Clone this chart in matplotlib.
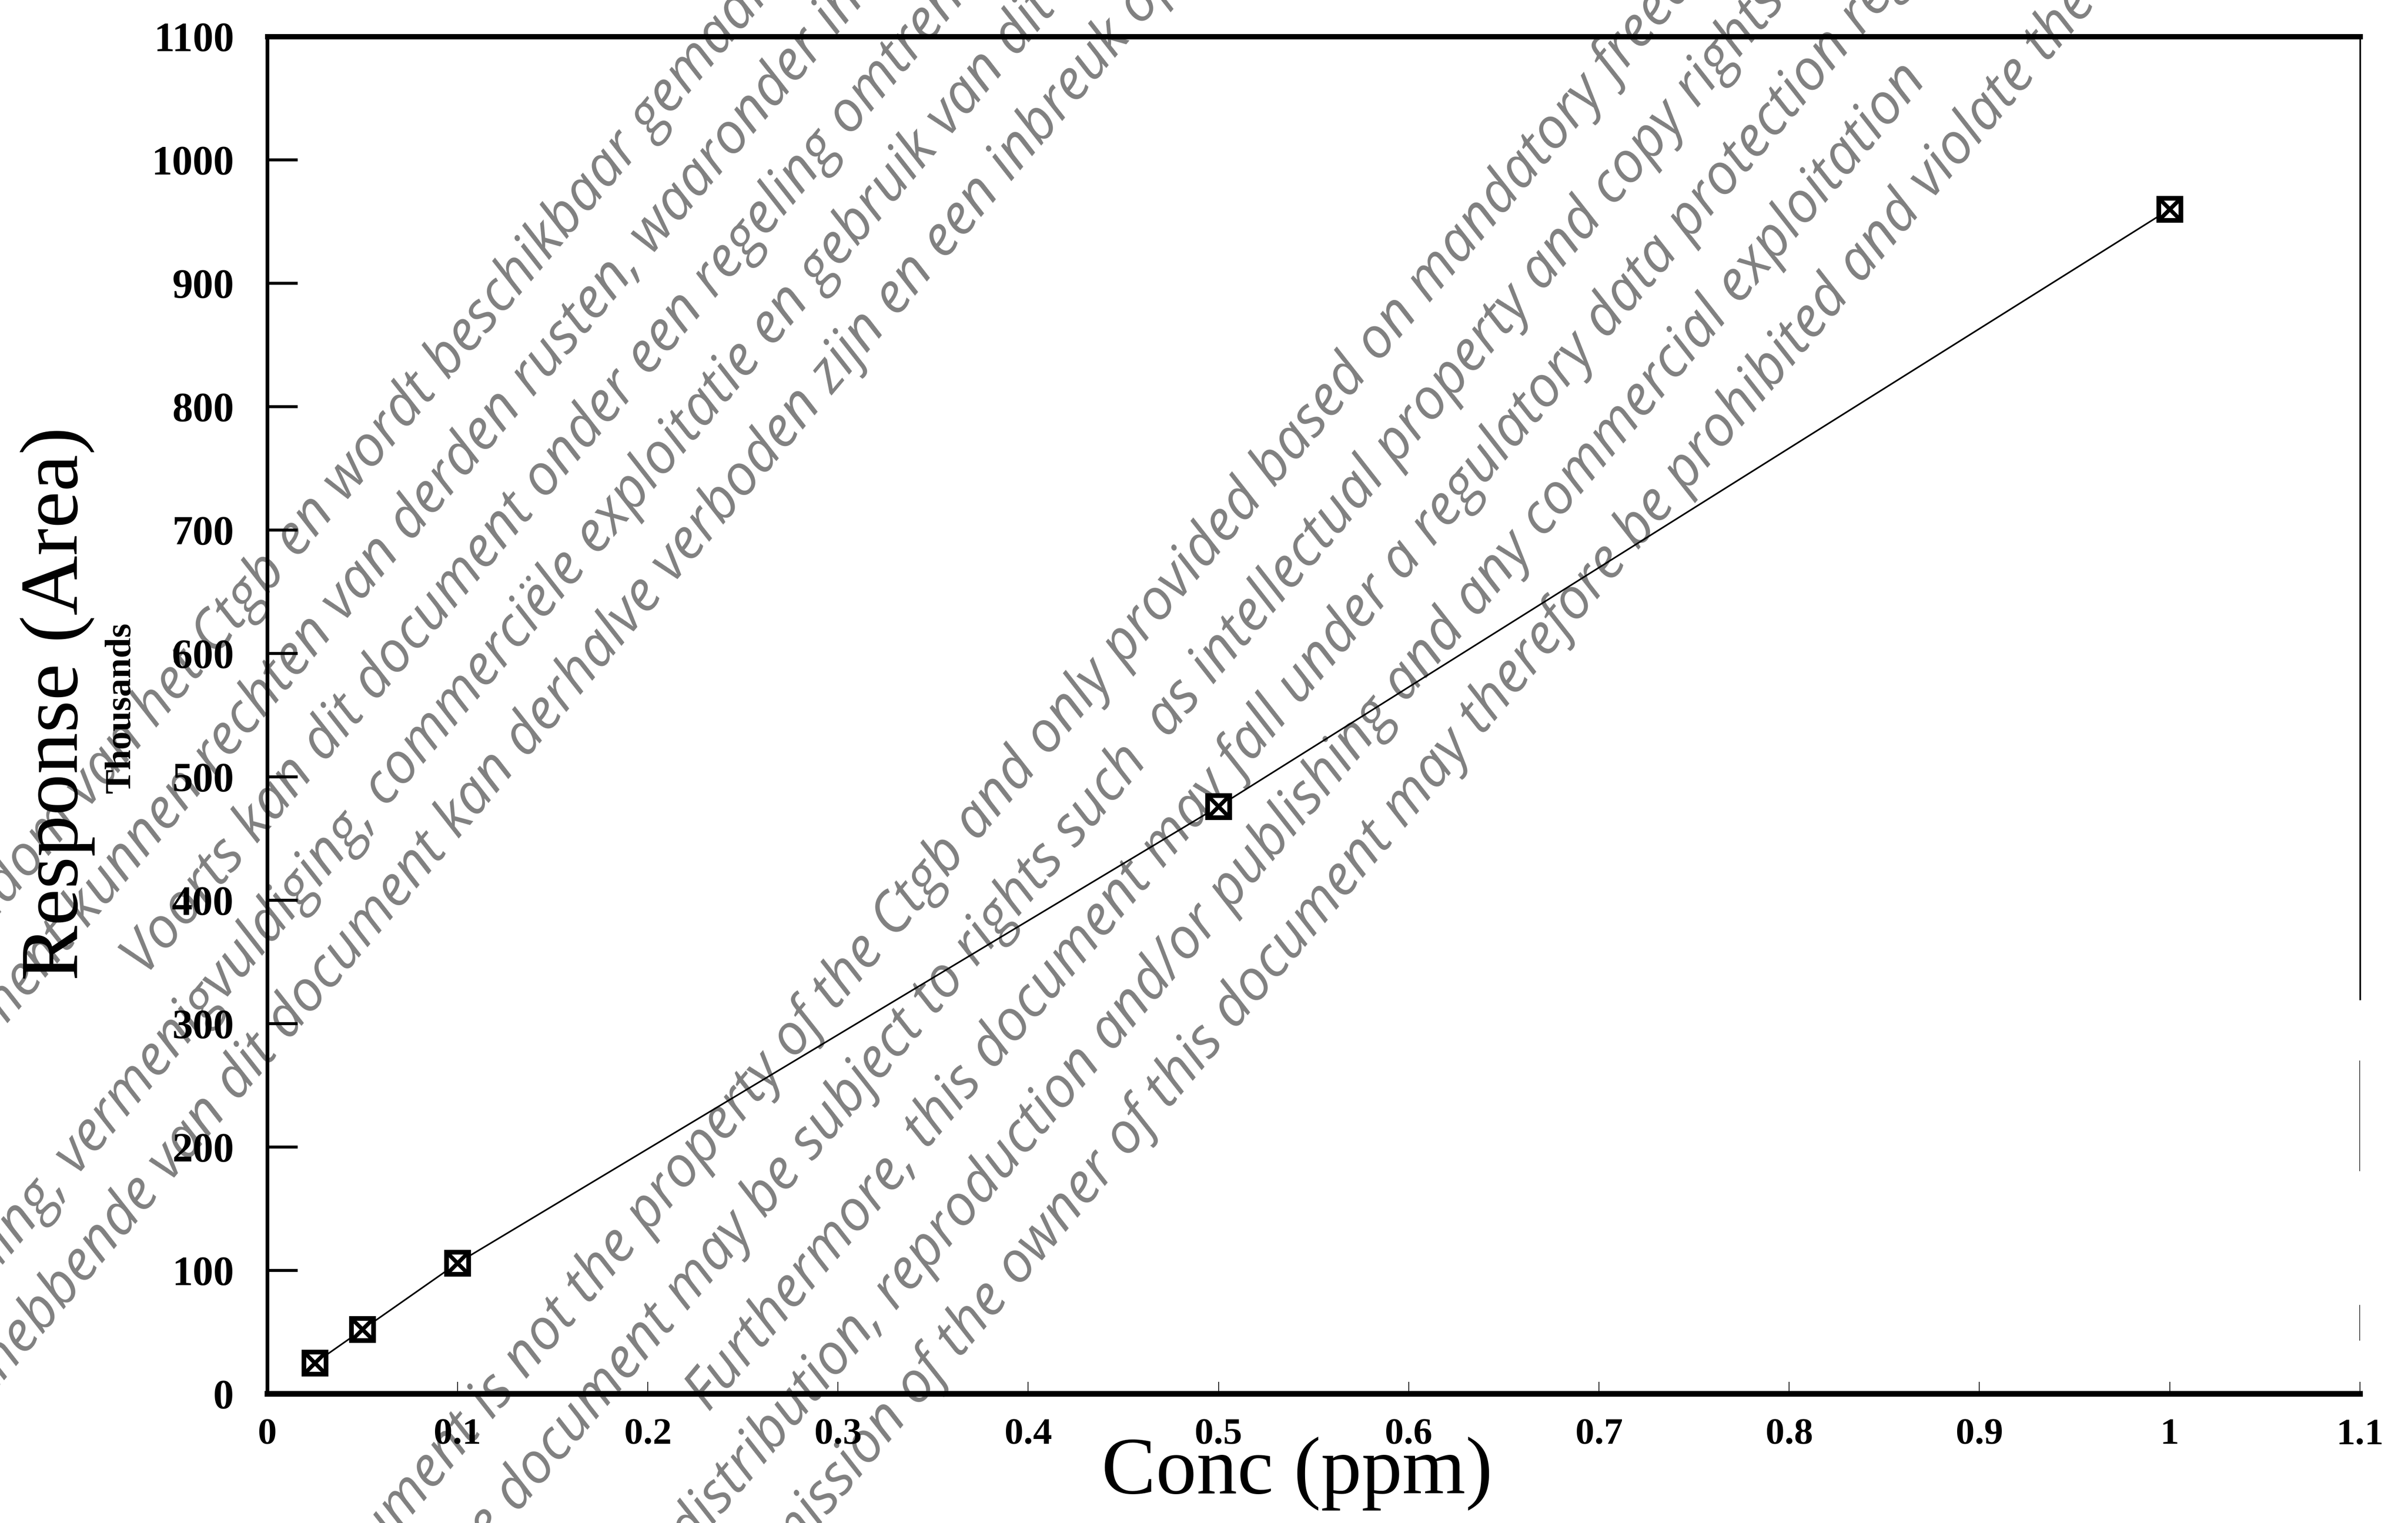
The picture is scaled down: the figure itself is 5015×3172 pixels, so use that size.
"""Calibration curve: detector response vs concentration, with the scan watermark."""

import math

import matplotlib

matplotlib.use("Agg")
import matplotlib.pyplot as plt


# data
conc_ppm = [0.025, 0.05, 0.1, 0.5, 1.0]
response_thousands = [25, 52, 106, 476, 960]

x_ticks = [0, 0.1, 0.2, 0.3, 0.4, 0.5, 0.6, 0.7, 0.8, 0.9, 1.0, 1.1]
x_tick_labels = ["0", "0.1", "0.2", "0.3", "0.4", "0.5", "0.6", "0.7", "0.8", "0.9", "1", "1.1"]
y_ticks = [0, 100, 200, 300, 400, 500, 600, 700, 800, 900, 1000, 1100]
y_tick_labels = ["0", "100", "200", "300", "400", "500", "600", "700", "800", "900", "1000", "1100"]

# watermark lines, split at the word whose position was measured
watermark = [
    ("Dit document is eigendom van het Ctgb en wordt", " beschikbaar gemaakt op grond van de wet"),
    ("Op de inhoud van dit document kunnen rechten van derden rusten,", " waaronder intellectuele eigendomsrechten"),
    ("", "Voorts kan dit document onder een regeling omtrent gegevensbescherming vallen"),
    ("Openbaarmaking, verspreiding, vermenigvuldiging,", " commerciële exploitatie en gebruik van dit document"),
    ("zonder toestemming van de rechthebbende van dit document kan", " derhalve verboden zijn en een inbreuk op diens rechten"),
    ("This document is not the property of the", " Ctgb and only provided based on mandatory freedom of information"),
    ("Content of the document may be", " subject to rights such  as intellectual property and copy rights"),
    ("Furthermore,", " this document may fall under a regulatory data protection regime"),
    ("Any distribution,", " reproduction and/or publishing and any commercial exploitation"),
    ("and use without the permission of", " the owner of this document may therefore be prohibited and violate the rights"),
]
# perpendicular offset and position along the line (pixels) of the split point
wm_offset = [1224, 1382, 1540, 1698, 1856, 2686, 2852, 3018, 3184, 3350]
wm_along = [-38, 435, -1364, -803, -536, -332, -796, -625, -924, -915]

W, H = 5015, 3172
ANGLE = 50.0

fig = plt.figure(figsize=(W / 100, H / 100), dpi=100)
fig.patch.set_facecolor("white")

# watermark sits underneath the chart (black over grey stays black)
th = math.radians(ANGLE)
nx, ny = math.sin(th), math.cos(th)
dx, dy = math.cos(th), -math.sin(th)
for (prefix, suffix), c, s in zip(watermark, wm_offset, wm_along):
    px = c * nx + s * dx
    py = c * ny + s * dy
    for text, ha in ((prefix, "right"), (suffix, "left")):
        if text:
            fig.text(px / W, 1 - py / H, text, rotation=ANGLE, rotation_mode="anchor",
                     ha=ha, va="baseline", fontsize=84, color="#808080",
                     family="Open Sans", style="italic", zorder=-1)

ax = fig.add_axes([0.1110, 0.0848, 0.8690, 0.8912])
ax.patch.set_alpha(0)

ax.plot(conc_ppm, response_thousands, "-", color="black", lw=2.4, zorder=2)
ax.plot(conc_ppm, response_thousands, "s", ms=33, mfc="white", mec="black", mew=7, zorder=3)
ax.plot(conc_ppm, response_thousands, "x", ms=27, mec="black", mew=6, zorder=4)

ax.set_xlim(0, 1.1)
ax.set_ylim(0, 1100)
ax.set_xticks(x_ticks, x_tick_labels)
ax.set_yticks(y_ticks, y_tick_labels)

serif = "Liberation Serif"
for label in ax.get_xticklabels() + ax.get_yticklabels():
    label.set_family(serif)
    label.set_fontweight("bold")
ax.tick_params(axis="x", direction="in", length=18, width=1.2, pad=36, labelsize=57)
ax.tick_params(axis="y", direction="in", length=45, width=4.5, pad=50, labelsize=62)

ax.spines["left"].set_linewidth(5.5)
ax.spines["top"].set_linewidth(8)
ax.spines["bottom"].set_linewidth(8.5)
ax.spines["right"].set_linewidth(2.5)
ax.spines["right"].set_bounds(320, 1100)
# broken bits of the right frame in the scan
ax.axvline(1.1, ymin=0.165, ymax=0.245, color="black", lw=2.5)
ax.axvline(1.1, ymin=0.04, ymax=0.065, color="black", lw=2.5)

fig.text(2701 / W, 1 - 3110 / H, "Conc (ppm)", ha="center", va="baseline",
         family=serif, fontsize=122)
fig.text(161 / W, 1 - 1465 / H, "Response (Area)", rotation=90, rotation_mode="anchor",
         ha="center", va="baseline", family=serif, fontsize=124)
fig.text(271 / W, 1 - 1474 / H, "Thousands", rotation=90, rotation_mode="anchor",
         ha="center", va="baseline", family=serif, fontweight="bold", fontsize=55)

fig.savefig("out.png", dpi=100)
